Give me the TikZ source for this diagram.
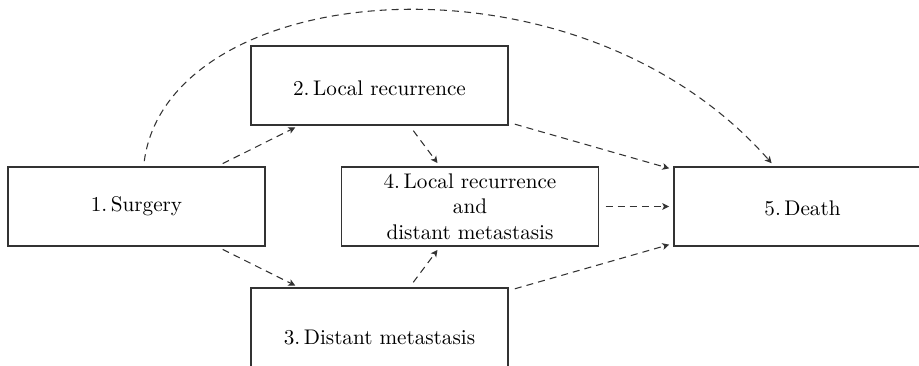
\documentclass[tikz,border=0pt]{standalone}
\usepackage{tikz}
\usetikzlibrary{arrows.meta,positioning}
\definecolor{boxgrey}{rgb}{0.2,0.2,0.2}
\tikzset{
  stagebox/.style={
    draw=boxgrey,
    line width=0.6pt,
    align=center,
    minimum width=4.27cm,
    minimum height=1.31cm,
    inner sep=2pt
  },
  arrow/.style={
    -{Stealth[length=3.2pt,width=3.2pt,inset=0.8pt]},
    boxgrey,
    line width=0.5pt,
    dash pattern=on 3.3pt off 2.4pt,
    shorten <=3pt,
    shorten >=2pt
  }
}

\begin{document}
\begin{tikzpicture}[x=0.0166cm,y=-0.0166cm]
\useasboundingbox (0,0) rectangle (919,366);
\node[stagebox] (surg) at (136.5,206.5) {1.\,Surgery};
\node[stagebox,text height=10pt] (lrec) at (379.5,85.5) {2.\,Local recurrence};
\node[stagebox,text height=16pt] (dist) at (379.5,327.5) {3.\,Distant metastasis};
\node[stagebox] (both) at (470,206.5) {4.\,Local recurrence\\and\\distant metastasis};
\node[stagebox,text height=8.5pt] (death) at (802.5,206.5) {5.\,Death};
\draw[arrow] (surg) -- (lrec);
\draw[arrow] (surg) -- (dist);
\draw[arrow] (lrec) -- (both);
\draw[arrow] (dist) -- (both);
\draw[arrow] (lrec) -- (death);
\draw[arrow] (both) -- (death);
\draw[arrow] (dist) -- (death);
\draw[arrow,shorten <=2.5pt] (surg.80) .. controls +(25,-187) and +(-200,-227) .. (death.125);
\end{tikzpicture}
\end{document}
